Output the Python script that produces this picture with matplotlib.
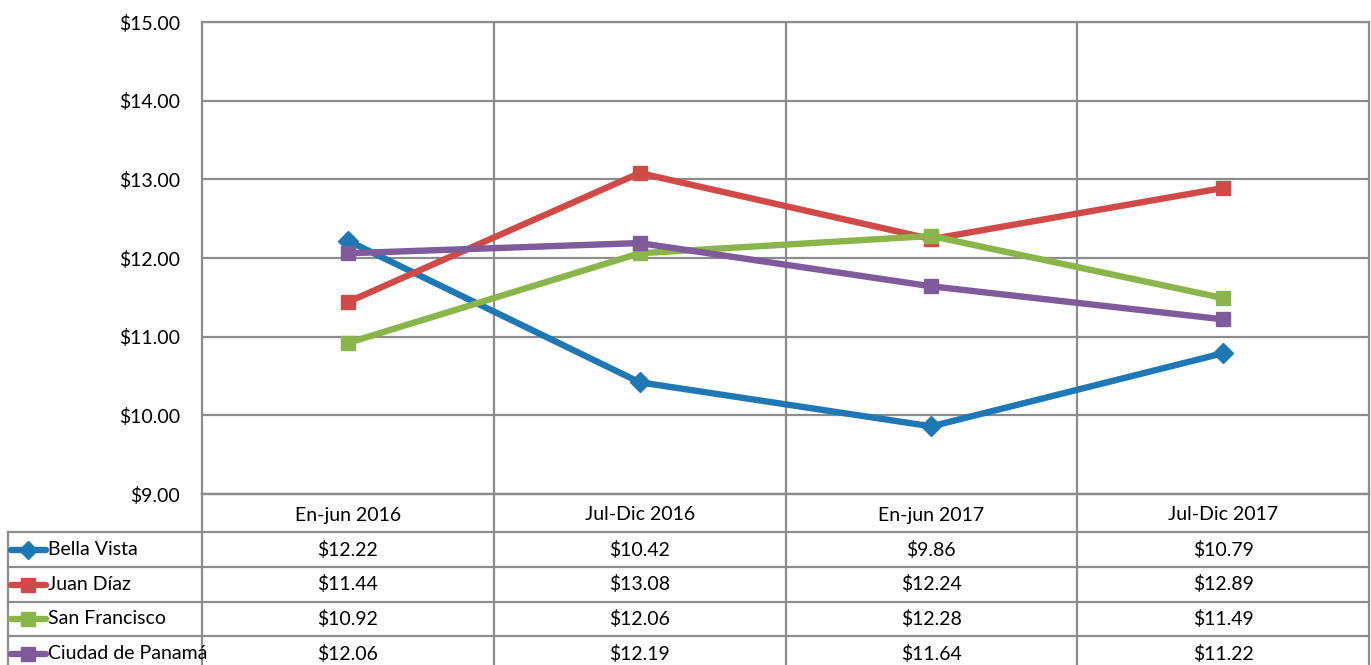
import matplotlib.pyplot as plt
from matplotlib.transforms import blended_transform_factory

plt.rcParams['font.family'] = ['Lato', 'DejaVu Sans']

periodos = ["En-jun 2016", "Jul-Dic 2016", "En-jun 2017", "Jul-Dic 2017"]
zonas = ["Bella Vista", "Juan Díaz", "San Francisco", "Ciudad de Panamá"]
bella_vista = [12.22, 10.42, 9.86, 10.79]
juan_diaz = [11.44, 13.08, 12.24, 12.89]
san_francisco = [10.92, 12.06, 12.28, 11.49]
ciudad_panama = [12.06, 12.19, 11.64, 11.22]
y_ticks = [9, 10, 11, 12, 13, 14, 15]

series = [bella_vista, juan_diaz, san_francisco, ciudad_panama]
colores = ['#1f78b4', '#d04a47', '#8ab54b', '#7f5b9c']
marcadores = ['D', 's', 's', 's']
grid_c = '#8c8c8c'
fs = 14

W, H = 1371, 665
fig = plt.figure(figsize=(W / 100, H / 100), dpi=100)

# plot area in pixels: x 202..1369, y 22..494
ax = fig.add_axes([202 / W, 1 - 494 / H, (1369 - 202) / W, (494 - 22) / H])
x = range(len(periodos))
for vals, c, m in zip(series, colores, marcadores):
    ax.plot(x, vals, color=c, lw=4.6, marker=m,
            markersize=10.5 if m == 's' else 10, zorder=3)
ax.set_xlim(-0.5, len(periodos) - 0.5)
ax.set_ylim(9, 15)
ax.set_yticks(y_ticks)
ax.set_yticklabels(["${:.2f}".format(v) for v in y_ticks], fontsize=fs)
ax.set_xticks([i + 0.5 for i in range(len(periodos) - 1)])
ax.set_xticklabels([])
ax.tick_params(length=0, pad=16)
ax.grid(True, color=grid_c, lw=1.6)
for s in ax.spines.values():
    s.set_color(grid_c)
    s.set_linewidth(1.6)

# data table below the plot
tr = blended_transform_factory(ax.transData, fig.transFigure)
fy = lambda py: 1 - py / H
fx = lambda px: px / W
rows_y = [494, 532, 567, 602, 636, 671]
lkw = dict(color=grid_c, lw=1.6, clip_on=False)

# horizontal lines
fig.add_artist(plt.Line2D([fx(202), fx(1369)], [fy(494), fy(494)], **lkw))
for py in rows_y[1:]:
    fig.add_artist(plt.Line2D([fx(8), fx(1369)], [fy(py), fy(py)], **lkw))
# vertical lines
for i in range(len(periodos) + 1):
    fig.add_artist(plt.Line2D([i - 0.5, i - 0.5], [fy(494), fy(671)],
                              transform=tr, **lkw))
fig.add_artist(plt.Line2D([fx(8), fx(8)], [fy(532), fy(671)], **lkw))

# header
for i, p in enumerate(periodos):
    fig.text(i, fy((rows_y[0] + rows_y[1]) / 2 + 2), p, transform=tr,
             ha='center', va='center', fontsize=fs)

# rows
for r, (z, vals, c, m) in enumerate(zip(zonas, series, colores, marcadores)):
    yc = fy((rows_y[r + 1] + rows_y[r + 2]) / 2)
    fig.add_artist(plt.Line2D([fx(11), fx(46)], [yc, yc], color=c, lw=4.6,
                              solid_capstyle='round'))
    fig.add_artist(plt.Line2D([fx(28.5)], [yc], color=c, marker=m,
                              markersize=10 if m == 's' else 9.5, lw=0))
    fig.text(fx(48), yc, z, ha='left', va='center', fontsize=fs)
    for i, v in enumerate(vals):
        fig.text(i, yc, "${:.2f}".format(v), transform=tr,
                 ha='center', va='center', fontsize=fs)

fig.savefig('out.png', dpi=100)
